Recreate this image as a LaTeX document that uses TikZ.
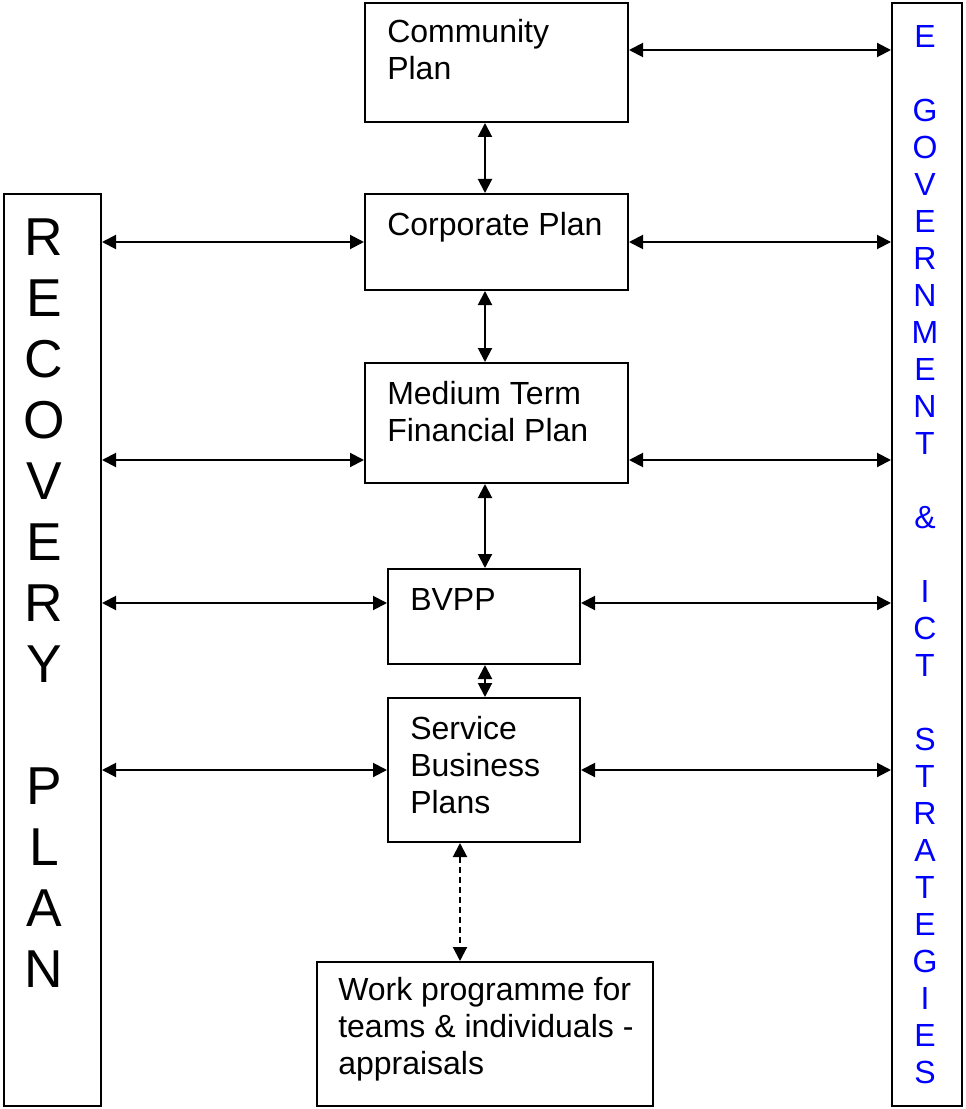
\documentclass[tikz,border=0pt]{standalone}
\usepackage{fontspec}
\setmainfont{Liberation Sans}
\usetikzlibrary{arrows.meta}
\definecolor{egblue}{RGB}{0,0,255}
\begin{document}
\begin{tikzpicture}[x=0.75pt,y=-0.75pt,
  box/.style={draw, line width=1.5pt, inner sep=0pt},
  txt/.style={font=\fontsize{24}{27.75}\selectfont, align=left, inner sep=0pt, anchor=base west},
  link/.style={line width=1.5pt, {Triangle[length=10.5pt,width=10.5pt]}-{Triangle[length=10.5pt,width=10.5pt]}},
  dlink/.style={link, dash pattern=on 4.5pt off 3pt},
  bigcol/.style={font=\fontsize{40}{45.75}\selectfont, align=center, inner sep=0pt, anchor=base},
  bluecol/.style={font=\fontsize{24}{27.75}\selectfont, align=center, inner sep=0pt, anchor=base, text=egblue}
]
\fill[white] (0,0) rectangle (965,1109);
\useasboundingbox (0,0) rectangle (965,1109);

% boxes
\node[box, minimum width=197.25pt, minimum height=89.25pt] (comm) at (496.5,62.5) {};
\node[box, minimum width=197.25pt, minimum height=72pt] (corp) at (496.5,242) {};
\node[box, minimum width=197.25pt, minimum height=90pt] (mtfp) at (496.5,423) {};
\node[box, minimum width=144pt, minimum height=71.25pt] (bvpp) at (484,616.5) {};
\node[box, minimum width=144pt, minimum height=108pt] (sbp) at (484,770) {};
\node[box, minimum width=252pt, minimum height=108pt] (work) at (485,1034) {};
\node[box, minimum width=72.75pt, minimum height=684pt] (rec) at (52.5,650) {};
\node[box, minimum width=52.5pt, minimum height=827.25pt] (egov) at (927,554.5) {};

% texts (anchor = baseline of the last line)
\node[txt] (commt) at (387,80) {Community\\Plan};
\node[txt] (corpt) at (387,236) {Corporate Plan};
\node[txt] (mtfpt) at (387,441) {Medium Term\\Financial Plan};
\node[txt] (bvppt) at (410,610) {BVPP};
\node[txt] (sbpt) at (410,813) {Service\\Business\\Plans};
\node[txt] (workt) at (338,1074) {Work programme for\\teams \& individuals -\\appraisals};
\node[bigcol] (rect) at (44,987) {R\\E\\C\\O\\V\\E\\R\\Y\\\mbox{}\\P\\L\\A\\N};
\node[bluecol] (egovt) at (925,1083) {E\\\mbox{}\\G\\O\\V\\E\\R\\N\\M\\E\\N\\T\\\mbox{}\\\&\\\mbox{}\\I\\C\\T\\\mbox{}\\S\\T\\R\\A\\T\\E\\G\\I\\E\\S};

% vertical links
\draw[link] (comm.south -| 485,0) -- (corp.north -| 485,0);
\draw[link] (corp.south -| 485,0) -- (mtfp.north -| 485,0);
\draw[link] (mtfp.south -| 485,0) -- (bvpp.north -| 485,0);
\draw[link] (bvpp.south -| 485,0) -- (sbp.north -| 485,0);
\draw[dlink] (sbp.south -| 460,0) -- (work.north -| 460,0);

% horizontal links
\draw[link] (comm.east |- 0,50) -- (egov.west |- 0,50);
\draw[link] (rec.east |- 0,242) -- (corp.west |- 0,242);
\draw[link] (corp.east |- 0,242) -- (egov.west |- 0,242);
\draw[link] (rec.east |- 0,460) -- (mtfp.west |- 0,460);
\draw[link] (mtfp.east |- 0,460) -- (egov.west |- 0,460);
\draw[link] (rec.east |- 0,603) -- (bvpp.west |- 0,603);
\draw[link] (bvpp.east |- 0,603) -- (egov.west |- 0,603);
\draw[link] (rec.east |- 0,770) -- (sbp.west |- 0,770);
\draw[link] (sbp.east |- 0,770) -- (egov.west |- 0,770);
\end{tikzpicture}
\end{document}
